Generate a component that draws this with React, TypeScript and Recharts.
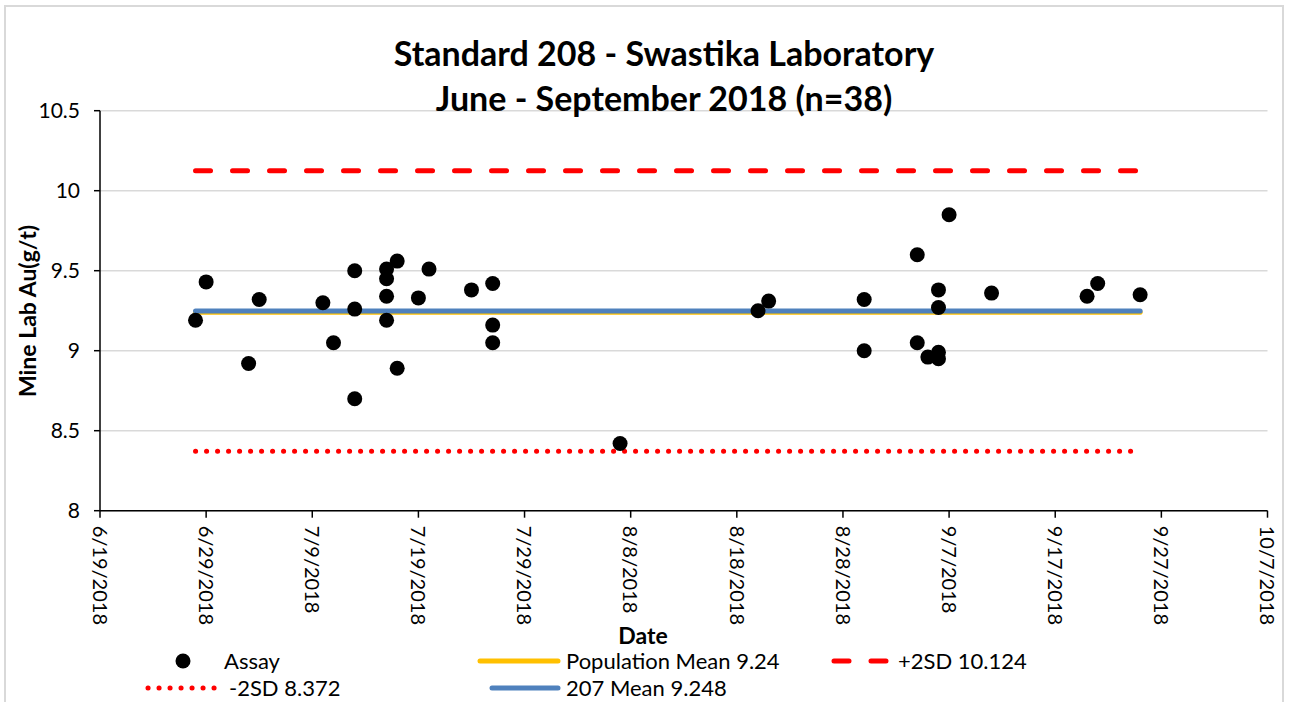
import { ComposedChart, Scatter, Line, XAxis, YAxis, CartesianGrid } from 'recharts';

const assayDates = [
  '6/28/2018', '6/29/2018', '7/3/2018', '7/4/2018', '7/10/2018', '7/11/2018',
  '7/13/2018', '7/13/2018', '7/13/2018', '7/16/2018', '7/16/2018', '7/16/2018',
  '7/16/2018', '7/17/2018', '7/17/2018', '7/19/2018', '7/20/2018', '7/24/2018',
  '7/26/2018', '7/26/2018', '7/26/2018', '8/7/2018', '8/20/2018', '8/21/2018',
  '8/30/2018', '8/30/2018', '9/4/2018', '9/4/2018', '9/5/2018', '9/6/2018',
  '9/6/2018', '9/6/2018', '9/6/2018', '9/7/2018', '9/11/2018', '9/20/2018',
  '9/21/2018', '9/25/2018',
];
const assayValues = [
  9.19, 9.43, 8.92, 9.32, 9.3, 9.05,
  9.26, 8.7, 9.5, 9.51, 9.45, 9.34,
  9.19, 9.56, 8.89, 9.33, 9.51, 9.38,
  9.42, 9.16, 9.05, 8.42, 9.25, 9.31,
  9.32, 9.0, 9.05, 9.6, 8.96, 9.38,
  9.27, 8.99, 8.95, 9.85, 9.36, 9.34,
  9.42, 9.35,
];

const xTickDates = [
  '6/19/2018', '6/29/2018', '7/9/2018', '7/19/2018', '7/29/2018', '8/8/2018',
  '8/18/2018', '8/28/2018', '9/7/2018', '9/17/2018', '9/27/2018', '10/7/2018',
];
const yTicks = [8, 8.5, 9, 9.5, 10, 10.5];

const populationMean = 9.24;
const plus2SD = 10.124;
const minus2SD = 8.372;
const mean207 = 9.248;

const FONT = 'Lato, "Open Sans", sans-serif';

const toTime = (s: string) => {
  const [m, d, y] = s.split('/').map(Number);
  return Date.UTC(y, m - 1, d);
};
const fmtDate = (t: number) => {
  const d = new Date(t);
  return `${d.getUTCMonth() + 1}/${d.getUTCDate()}/${d.getUTCFullYear()}`;
};

const assayData = assayDates.map((d, i) => ({ x: toTime(d), y: assayValues[i] }));
const lineDates = Array.from(new Set(assayDates)).map(toTime);
const levelData = (v: number) => lineDates.map((x) => ({ x, y: v }));
const xTicks = xTickDates.map(toTime);

const DateTick = (props: any) => {
  const { x, y, payload } = props;
  return (
    <g transform={`translate(${x},${y})`}>
      <text
        transform="rotate(90)"
        x={0}
        y={0}
        dy="0.36em"
        textAnchor="start"
        fill="#000"
        fontFamily={FONT}
        fontSize={20}
      >
        {fmtDate(payload.value)}
      </text>
    </g>
  );
};

const Dot = (props: any) => <circle cx={props.cx} cy={props.cy} r={7.5} fill="#000" />;

const legendText: React.CSSProperties = {
  position: 'absolute',
  fontFamily: FONT,
  fontSize: 22,
  color: '#000',
  lineHeight: '22px',
  whiteSpace: 'nowrap',
};

export default function App() {
  return (
    <div style={{ position: 'absolute', left: 0, top: 0, width: 1293, height: 702, background: '#fff', overflow: 'hidden' }}>
      <div
        style={{
          position: 'absolute',
          left: 4,
          top: 5,
          width: 1280,
          height: 710,
          border: '2px solid #d9d9d9',
          boxSizing: 'border-box',
        }}
      />

      <div style={{ position: 'absolute', left: 0, top: 0 }}>
        <ComposedChart width={1293} height={702} margin={{ top: 110.7, right: 25.5, bottom: 0, left: 0 }}>
          <CartesianGrid vertical={false} stroke="#d9d9d9" strokeWidth={1.5} />
          <XAxis
            type="number"
            dataKey="x"
            domain={[xTicks[0], xTicks[xTicks.length - 1]]}
            ticks={xTicks}
            interval={0}
            height={191.3}
            tick={<DateTick />}
            tickSize={7}
            tickMargin={8}
            stroke="#000"
            strokeWidth={1.5}
          />
          <YAxis
            type="number"
            dataKey="y"
            domain={[8, 10.5]}
            ticks={yTicks}
            interval={0}
            width={100}
            tickSize={6}
            tickMargin={14}
            stroke="#000"
            strokeWidth={1.5}
            tick={{ fill: '#000', fontFamily: FONT, fontSize: 21 }}
          />
          <Line
            data={levelData(populationMean)}
            dataKey="y"
            stroke="#FFC000"
            strokeWidth={5}
            dot={false}
            strokeLinecap="round"
            isAnimationActive={false}
          />
          <Line
            data={levelData(mean207)}
            dataKey="y"
            stroke="#4F81BD"
            strokeWidth={5}
            dot={false}
            strokeLinecap="round"
            isAnimationActive={false}
          />
          <Line
            data={levelData(plus2SD)}
            dataKey="y"
            stroke="#FF0000"
            strokeWidth={5}
            strokeDasharray="15 22"
            strokeLinecap="round"
            dot={false}
            isAnimationActive={false}
          />
          <Line
            data={levelData(minus2SD)}
            dataKey="y"
            stroke="#FF0000"
            strokeWidth={5}
            strokeDasharray="0.1 10.9"
            strokeLinecap="round"
            dot={false}
            isAnimationActive={false}
          />
          <Scatter data={assayData} dataKey="y" fill="#000" shape={<Dot />} isAnimationActive={false} />
        </ComposedChart>
      </div>

      <div
        style={{
          position: 'absolute',
          left: 0,
          top: 30,
          width: 1328,
          textAlign: 'center',
          fontFamily: FONT,
          fontWeight: 700,
          fontSize: 34,
          lineHeight: '45px',
          color: '#000',
        }}
      >
        Standard 208 - Swastika Laboratory
        <br />
        June - September 2018 (n=38)
      </div>

      <div
        style={{
          position: 'absolute',
          left: 27,
          top: 311,
          transform: 'translate(-50%, -50%) rotate(-90deg)',
          fontFamily: FONT,
          fontWeight: 700,
          fontSize: 23,
          whiteSpace: 'nowrap',
          color: '#000',
        }}
      >
        Mine Lab Au(g/t)
      </div>
      <div
        style={{
          position: 'absolute',
          left: 593,
          top: 623,
          width: 100,
          textAlign: 'center',
          fontFamily: FONT,
          fontWeight: 700,
          fontSize: 23,
          lineHeight: '24px',
          color: '#000',
        }}
      >
        Date
      </div>

      <svg style={{ position: 'absolute', left: 0, top: 640 }} width={1293} height={62}>
        <circle cx={183} cy={21} r={7.5} fill="#000" />
        <line x1={480} y1={21} x2={558} y2={21} stroke="#FFC000" strokeWidth={5} strokeLinecap="round" />
        <line x1={834} y1={21} x2={886} y2={21} stroke="#FF0000" strokeWidth={5} strokeLinecap="round" strokeDasharray="15 22" />
        <line x1={148} y1={48} x2={224} y2={48} stroke="#FF0000" strokeWidth={5} strokeLinecap="round" strokeDasharray="0.1 10.9" />
        <line x1={492} y1={48} x2={558} y2={48} stroke="#4F81BD" strokeWidth={5} strokeLinecap="round" />
      </svg>
      <div style={{ ...legendText, left: 224, top: 650 }}>Assay</div>
      <div style={{ ...legendText, left: 566, top: 650 }}>Population Mean 9.24</div>
      <div style={{ ...legendText, left: 898, top: 650 }}>+2SD 10.124</div>
      <div style={{ ...legendText, left: 229, top: 677 }}>-2SD 8.372</div>
      <div style={{ ...legendText, left: 566, top: 677 }}>207 Mean 9.248</div>
    </div>
  );
}
